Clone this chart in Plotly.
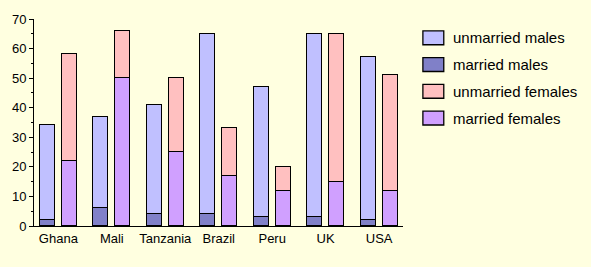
import plotly.graph_objects as go

countries = ["Ghana", "Mali", "Tanzania", "Brazil", "Peru", "UK", "USA"]
married_males = [2, 6, 4, 4, 3, 3, 2]
unmarried_males = [32, 31, 37, 61, 44, 62, 55]
married_females = [22, 50, 25, 17, 12, 15, 12]
unmarried_females = [36, 16, 25, 16, 8, 50, 39]

series_names = ["unmarried males", "married males", "unmarried females", "married females"]
colors = {"unmarried males": "#C0C0FF", "married males": "#8080C8",
          "unmarried females": "#FFC0C0", "married females": "#D0A0FF"}

W, H = 591, 267
L, R, T, B = 32, 403, 17, 226  # plot area in pixels

off = 0.205
bw = 0.28
xm = [i - off for i in range(len(countries))]
xf = [i + off for i in range(len(countries))]

fig = go.Figure()
line = dict(color="black", width=1.3)
fig.add_trace(go.Bar(x=xm, y=married_males, width=bw, name="married males",
                     marker=dict(color=colors["married males"], line=line)))
fig.add_trace(go.Bar(x=xm, y=unmarried_males, width=bw, name="unmarried males",
                     marker=dict(color=colors["unmarried males"], line=line)))
fig.add_trace(go.Bar(x=xf, y=married_females, width=bw, name="married females",
                     marker=dict(color=colors["married females"], line=line)))
fig.add_trace(go.Bar(x=xf, y=unmarried_females, width=bw, name="unmarried females",
                     marker=dict(color=colors["unmarried females"], line=line)))

# custom legend (paper coords from pixel layout)
def px2x(px):
    return (px - L) / (R - L)

def py2y(py):
    return (B - py) / (B - T)

shapes = []
annotations = []
for k, name in enumerate(series_names):
    cy = 36 + 27 * k
    shapes.append(dict(type="rect", xref="paper", yref="paper",
                       x0=px2x(423), x1=px2x(444), y0=py2y(cy + 7), y1=py2y(cy - 7),
                       fillcolor=colors[name], line=dict(color="black", width=1.3)))
    annotations.append(dict(xref="paper", yref="paper", x=px2x(451), y=py2y(cy),
                            text=name, showarrow=False, xanchor="left", yanchor="middle",
                            font=dict(family="Liberation Sans, Arial", size=15, color="black")))

fig.update_layout(
    width=W, height=H,
    margin=dict(l=L, r=W - R, t=T, b=H - B, pad=0),
    paper_bgcolor="#FFFFE0", plot_bgcolor="#FFFFE0",
    barmode="stack", bargap=0, showlegend=False,
    font=dict(family="Liberation Sans, Arial", size=13, color="black"),
    shapes=shapes, annotations=annotations,
    xaxis=dict(range=[-0.456, 6.447], tickmode="array", tickvals=list(range(len(countries))),
               ticktext=countries, ticks="", showgrid=False, zeroline=False,
               showline=True, linecolor="black", linewidth=1, fixedrange=True,
               tickfont=dict(size=13)),
    yaxis=dict(range=[0, 70], tickmode="linear", tick0=0, dtick=10, ticks="outside",
               ticklen=4, tickcolor="black", showgrid=False, zeroline=False,
               showline=True, linecolor="black", linewidth=1,
               minor=dict(dtick=5, ticks="outside", ticklen=2, tickcolor="black"),
               tickfont=dict(size=13)),
)

fig.write_html("out.html")
